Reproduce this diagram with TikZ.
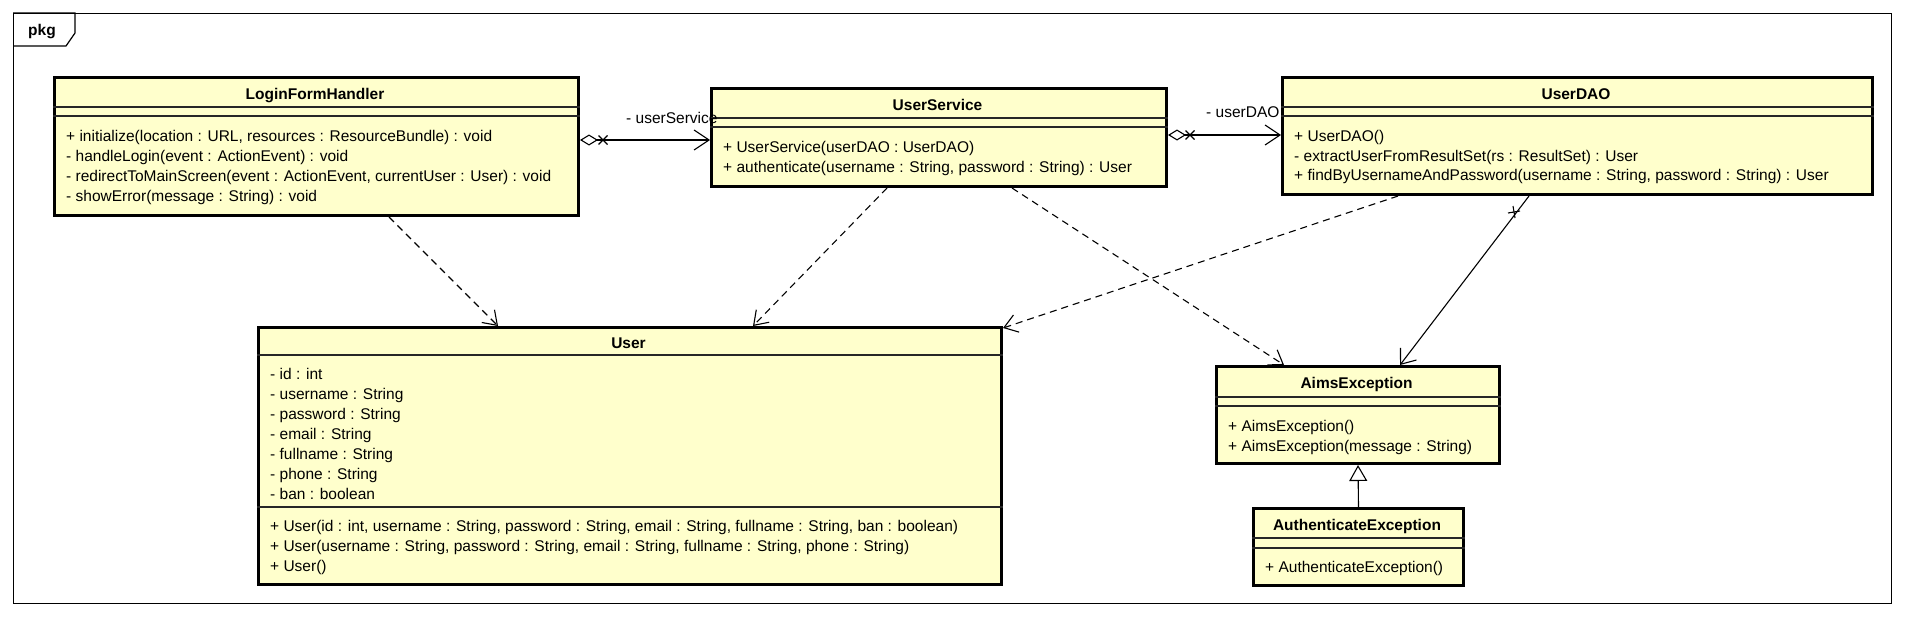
\documentclass[tikz,border=0pt]{standalone}
\usepackage{fontspec}
\setmainfont{Liberation Sans}
\usetikzlibrary{arrows.meta,calc}
\definecolor{classfill}{HTML}{FFFFCC}
\begin{document}
\begin{tikzpicture}[x=1pt,y=-1pt,
  txt/.style={font=\fontsize{15.5}{18}\selectfont, inner sep=0pt, anchor=base west},
  ttl/.style={font=\fontsize{15.5}{18}\selectfont\bfseries, inner sep=0pt, anchor=base},
  cls/.style={draw=black, fill=classfill, line width=3pt, inner sep=0pt, anchor=north west},
  sep/.style={line width=1.2pt, draw=black!85},
  conn/.style={line width=1.1pt},
  dep/.style={conn, dash pattern=on 7pt off 5pt, -{Straight Barb[length=13pt,width=18pt]}},
  nav/.style={conn, -{Straight Barb[length=13pt,width=20pt]}},
  agg/.style={conn, {Diamond[open,length=18pt,width=11pt]}-{Straight Barb[length=15pt,width=20pt]}},
  gen/.style={conn, -{Triangle[open,length=16pt,width=18pt]}},
  cross/.style={line width=1.1pt}
]
\useasboundingbox (0,0) rectangle (1905,616);

% package frame
\node[draw=black, line width=1.2pt, minimum width=1878pt, minimum height=590pt, inner sep=0pt, anchor=north west] (frame) at (13,13) {};
\draw[line width=1.2pt] (frame.north west) -- (75,13) -- (75,33) -- (66,46) -- (frame.west |- 0,46);
\node[ttl] (pkglbl) at (42,35) {pkg};

% LoginFormHandler
\node[cls, minimum width=524pt, minimum height=138pt] (lfh) at (53,76) {};
\draw[sep] (lfh.west |- 0,107) -- (lfh.east |- 0,107);
\draw[sep] (lfh.west |- 0,116) -- (lfh.east |- 0,116);
\node[ttl] (lfh-t) at (315,99) {LoginFormHandler};
\node[txt] (lfh-m1) at (66,141) {+ initialize(location : URL, resources : ResourceBundle) : void};
\node[txt] (lfh-m2) at (66,161) {- handleLogin(event : ActionEvent) : void};
\node[txt] (lfh-m3) at (66,181) {- redirectToMainScreen(event : ActionEvent, currentUser : User) : void};
\node[txt] (lfh-m4) at (66,201) {- showError(message : String) : void};

% UserService
\node[cls, minimum width=455pt, minimum height=98pt] (us) at (710,87) {};
\draw[sep] (us.west |- 0,118) -- (us.east |- 0,118);
\draw[sep] (us.west |- 0,127) -- (us.east |- 0,127);
\node[ttl] (us-t) at (937.5,110) {UserService};
\node[txt] (us-m1) at (723,152) {+ UserService(userDAO : UserDAO)};
\node[txt] (us-m2) at (723,172) {+ authenticate(username : String, password : String) : User};

% UserDAO
\node[cls, minimum width=590pt, minimum height=117pt] (dao) at (1281,76) {};
\draw[sep] (dao.west |- 0,107) -- (dao.east |- 0,107);
\draw[sep] (dao.west |- 0,116) -- (dao.east |- 0,116);
\node[ttl] (dao-t) at (1576,99) {UserDAO};
\node[txt] (dao-m1) at (1294,141) {+ UserDAO()};
\node[txt] (dao-m2) at (1294,161) {- extractUserFromResultSet(rs : ResultSet) : User};
\node[txt] (dao-m3) at (1294,180) {+ findByUsernameAndPassword(username : String, password : String) : User};

% User
\node[cls, minimum width=743pt, minimum height=257pt] (user) at (257,326) {};
\draw[sep] (user.west |- 0,355) -- (user.east |- 0,355);
\draw[sep] (user.west |- 0,507) -- (user.east |- 0,507);
\node[ttl] (user-t) at (628.5,348) {User};
\node[txt] (user-a1) at (270,379) {- id : int};
\node[txt] (user-a2) at (270,399) {- username : String};
\node[txt] (user-a3) at (270,419) {- password : String};
\node[txt] (user-a4) at (270,439) {- email : String};
\node[txt] (user-a5) at (270,459) {- fullname : String};
\node[txt] (user-a6) at (270,479) {- phone : String};
\node[txt] (user-a7) at (270,499) {- ban : boolean};
\node[txt] (user-m1) at (270,531) {+ User(id : int, username : String, password : String, email : String, fullname : String, ban : boolean)};
\node[txt] (user-m2) at (270,551) {+ User(username : String, password : String, email : String, fullname : String, phone : String)};
\node[txt] (user-m3) at (270,571) {+ User()};

% AimsException
\node[cls, minimum width=283pt, minimum height=97pt] (aims) at (1215,365) {};
\draw[sep] (aims.west |- 0,397) -- (aims.east |- 0,397);
\draw[sep] (aims.west |- 0,406) -- (aims.east |- 0,406);
\node[ttl] (aims-t) at (1356.5,388) {AimsException};
\node[txt] (aims-m1) at (1228,431) {+ AimsException()};
\node[txt] (aims-m2) at (1228,451) {+ AimsException(message : String)};

% AuthenticateException
\node[cls, minimum width=210pt, minimum height=77pt] (auth) at (1252,507) {};
\draw[sep] (auth.west |- 0,538) -- (auth.east |- 0,538);
\draw[sep] (auth.west |- 0,548) -- (auth.east |- 0,548);
\node[ttl] (auth-t) at (1357,530) {AuthenticateException};
\node[txt] (auth-m1) at (1265,572) {+ AuthenticateException()};

% associations
\draw[agg] (lfh.east |- 0,140) -- (us.west |- 0,140);
\draw[cross] (598.5,135.5) -- (607.5,144.5) (598.5,144.5) -- (607.5,135.5);
\node[txt] (lbl-us) at (626,123) {- userService};

\draw[agg] (us.east |- 0,135) -- (dao.west |- 0,135);
\draw[cross] (1185.5,130.5) -- (1194.5,139.5) (1185.5,139.5) -- (1194.5,130.5);
\node[txt] (lbl-dao) at (1206,117) {- userDAO};

\draw[nav] (dao.south -| 1529,0) -- (aims.north -| 1400,0);
\draw[cross] (1508,213) -- (1520,211) (1515,218) -- (1513,206);

% dependencies
\draw[dep] (lfh.south -| 389,0) -- (user.north -| 498,0);
\draw[dep] (us.south -| 887,0) -- (user.north -| 753,0);
\draw[dep] (us.south -| 1012,0) -- (aims.north -| 1284,0);
\draw[dep] (dao.south -| 1398,0) -- (user.east |- 0,328);

% generalization
\draw[gen] (auth.north) -- (aims.south);
\end{tikzpicture}
\end{document}
